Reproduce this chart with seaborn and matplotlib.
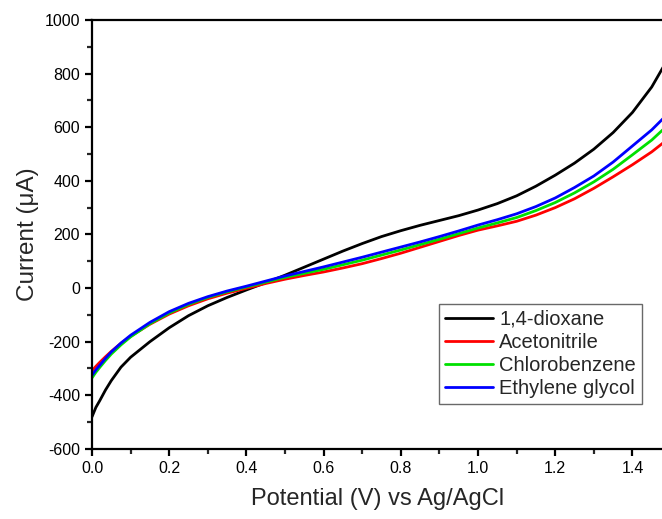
import numpy as np
import pandas as pd
import matplotlib
matplotlib.use("Agg")
import matplotlib.pyplot as plt
import seaborn as sns
from matplotlib.ticker import MultipleLocator, FormatStrFormatter

potential = [0.0, 0.01, 0.02, 0.035, 0.05, 0.075, 0.1, 0.15, 0.2, 0.25, 0.3, 0.35, 0.4, 0.45,
             0.5, 0.55, 0.6, 0.65, 0.7, 0.75, 0.8, 0.85, 0.9, 0.95, 1.0, 1.05, 1.1, 1.15,
             1.2, 1.25, 1.3, 1.35, 1.4, 1.45, 1.48]
dioxane = [-480, -445, -420, -380, -345, -295, -258, -200, -148, -103, -66, -35, -7, 20,
           48, 78, 108, 138, 166, 192, 214, 234, 252, 270, 291, 315, 344, 380,
           421, 466, 518, 580, 655, 750, 825]
acetonitrile = [-308, -292, -277, -256, -236, -206, -180, -135, -97, -66, -40, -19, -1, 17,
                33, 47, 60, 75, 91, 110, 130, 152, 174, 196, 216, 232, 249, 272,
                300, 333, 372, 415, 460, 508, 542]
chlorobenzene = [-335, -314, -296, -270, -246, -212, -182, -133, -93, -61, -35, -14, 4, 22,
                 40, 55, 70, 87, 104, 123, 142, 162, 182, 203, 224, 243, 263, 289,
                 319, 355, 396, 443, 497, 552, 592]
ethylene_glycol = [-325, -305, -288, -262, -238, -205, -176, -128, -88, -57, -32, -11, 7, 26,
                   45, 62, 79, 97, 115, 134, 153, 172, 192, 213, 235, 255, 277, 304,
                   336, 375, 418, 470, 530, 590, 633]

series = {
    "1,4-dioxane": dioxane,
    "Acetonitrile": acetonitrile,
    "Chlorobenzene": chlorobenzene,
    "Ethylene glycol": ethylene_glycol,
}
colors = ["#000000", "#ff0000", "#00e000", "#0000ff"]

rows = []
for name, vals in series.items():
    for x, y in zip(potential, vals):
        rows.append({"Potential": x, "Current": y, "Solvent": name})
df = pd.DataFrame(rows)

sns.set_style("ticks")
plt.rcParams["font.family"] = ["Liberation Sans", "DejaVu Sans"]
plt.rcParams["axes.unicode_minus"] = False

fig = plt.figure(figsize=(6.62, 5.19), dpi=100)
ax = fig.add_axes([0.139, 0.135, 0.863, 0.8266])

sns.lineplot(data=df, x="Potential", y="Current", hue="Solvent",
             palette=colors, linewidth=2.0, ax=ax, legend=True)

ax.set_xlim(0, 1.48)
ax.set_ylim(-600, 1000)
ax.xaxis.set_major_locator(MultipleLocator(0.2))
ax.xaxis.set_minor_locator(MultipleLocator(0.1))
ax.yaxis.set_major_locator(MultipleLocator(200))
ax.yaxis.set_minor_locator(MultipleLocator(100))
ax.xaxis.set_major_formatter(FormatStrFormatter("%.1f"))

for s in ["left", "bottom", "top"]:
    ax.spines[s].set_linewidth(1.6)
    ax.spines[s].set_color("black")
ax.spines["right"].set_visible(False)

ax.tick_params(axis="both", which="major", direction="out", length=5, width=1.6,
               labelsize=11.5, colors="black", top=False, right=False)
ax.tick_params(axis="both", which="minor", direction="out", length=3.5, width=1.6,
               top=False, right=False)

ax.set_xlabel("Potential (V) vs Ag/AgCl", fontsize=17, labelpad=9)
ax.set_ylabel("Current (\u03bcA)", fontsize=17.5, labelpad=4)

leg = ax.legend(loc="upper left", bbox_to_anchor=(0.607, 0.338), fontsize=14.5,
                frameon=True, fancybox=False, handlelength=2.4, handletextpad=0.3,
                borderpad=0.3, labelspacing=0.2, borderaxespad=0)
leg.get_frame().set_edgecolor("#444444")
leg.get_frame().set_linewidth(1.0)
for line in leg.get_lines():
    line.set_linewidth(2.0)

fig.savefig("out.png", dpi=100)
